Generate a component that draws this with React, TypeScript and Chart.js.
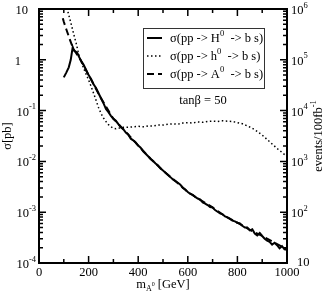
import React, { useEffect, useRef } from "react";
import { Chart, registerables } from "chart.js";
Chart.register(...registerables);

// sigma(pp -> H0 -> b s) [pb]
const massH = [100, 110, 120, 128, 136, 142, 148, 155, 160, 170, 180, 190, 200, 210, 220, 230, 240, 250, 260, 270, 280, 290, 300, 310, 320, 330, 340, 350, 360, 370, 380, 390, 400, 410, 420, 430, 440, 450, 460, 470, 480, 490, 500, 510, 520, 530, 540, 550, 560, 570, 580, 590, 600, 610, 620, 630, 640, 650, 660, 670, 680, 690, 700, 710, 720, 730, 740, 750, 760, 770, 780, 790, 800, 810, 820, 830, 840, 850, 860, 870, 880, 890, 900, 910, 920, 930, 940, 950, 960, 970, 980, 990, 1000];
const sigmaH = [0.45, 0.56, 0.71, 1.0, 1.78, 1.5, 1.45, 1.35, 1.18, 0.95, 0.8, 0.63, 0.5, 0.42, 0.33, 0.28, 0.22, 0.175, 0.14, 0.107, 0.093, 0.079, 0.069, 0.063, 0.054, 0.047, 0.043, 0.037, 0.034, 0.028, 0.026, 0.0235, 0.0205, 0.0186, 0.0158, 0.0141, 0.0126, 0.0112, 0.0102, 0.0091, 0.0083, 0.0072, 0.0066, 0.006, 0.0054, 0.0049, 0.0044, 0.0041, 0.0038, 0.00347, 0.003, 0.0028, 0.0025, 0.0023, 0.00219, 0.002, 0.00186, 0.00178, 0.00155, 0.00148, 0.00138, 0.00126, 0.00123, 0.0011, 0.00102, 0.00095, 0.00091, 0.00083, 0.00079, 0.00074, 0.00068, 0.00066, 0.00062, 0.0006, 0.00054, 0.0005, 0.0005, 0.00044, 0.00046, 0.00038, 0.00035, 0.00039, 0.00034, 0.0003, 0.000275, 0.00026, 0.00023, 0.00025, 0.000224, 0.000195, 0.000214, 0.000186, 0.000182];

// sigma(pp -> h0 -> b s) [pb]
const massh = [113, 120, 130, 140, 150, 160, 170, 180, 190, 200, 210, 220, 230, 240, 250, 260, 270, 280, 290, 300, 310, 320, 340, 360, 380, 400, 420, 440, 460, 480, 500, 520, 540, 560, 580, 600, 620, 640, 660, 680, 700, 720, 740, 760, 780, 800, 820, 840, 860, 880, 900, 920, 940, 960, 980, 1000];
const sigmah = [10.5, 7.6, 5.0, 3.2, 2.1, 1.3, 0.92, 0.68, 0.52, 0.4, 0.3, 0.22, 0.16, 0.115, 0.088, 0.072, 0.061, 0.053, 0.048, 0.045, 0.044, 0.045, 0.047, 0.047, 0.048, 0.049, 0.048, 0.05, 0.05, 0.052, 0.052, 0.054, 0.055, 0.054, 0.057, 0.058, 0.057, 0.06, 0.059, 0.061, 0.062, 0.061, 0.063, 0.062, 0.061, 0.058, 0.055, 0.05, 0.045, 0.039, 0.033, 0.027, 0.022, 0.018, 0.015, 0.0125];

// sigma(pp -> A0 -> b s) [pb]
const massA = [96, 100, 110, 120, 130, 140, 150, 170, 200, 250, 300, 350, 400, 450, 500, 550, 600, 650, 700, 750, 800, 850, 900, 950, 1000];
const sigmaA = [6.6, 5.6, 4.0, 2.9, 2.1, 1.6, 1.35, 0.95, 0.5, 0.175, 0.069, 0.038, 0.0205, 0.0113, 0.0066, 0.0041, 0.0025, 0.00175, 0.00124, 0.00084, 0.00062, 0.00045, 0.00034, 0.00025, 0.000185];

const xTickValues = [0, 200, 400, 600, 800, 1000];
const xMinorValues = [100, 300, 500, 700, 900];
const leftDecades = [-4, -3, -2, -1, 0, 1];
const rightDecades = [1, 2, 3, 4, 5, 6];
const legendNames = ["H", "h", "A"];
const annotation = "tan\u03b2 = 50";

const FONT = '"Liberation Serif", "DejaVu Serif", serif';
const f = (s: number) => `${s}px ${FONT}`;

type Seg = { t: string; size: number; dy: number };

function richWidth(ctx: CanvasRenderingContext2D, segs: Seg[]) {
  let w = 0;
  for (const s of segs) {
    ctx.font = f(s.size);
    w += ctx.measureText(s.t).width;
  }
  return w;
}
function drawRich(ctx: CanvasRenderingContext2D, segs: Seg[], x: number, y: number) {
  ctx.textAlign = "left";
  ctx.textBaseline = "alphabetic";
  let cx = x;
  for (const s of segs) {
    ctx.font = f(s.size);
    ctx.fillText(s.t, cx, y + s.dy);
    cx += ctx.measureText(s.t).width;
  }
}

const BASE = 12.5;
const EXP = 8.5;

const framePlugin = {
  id: "frame",
  afterDraw(chart: any) {
    const ctx: CanvasRenderingContext2D = chart.ctx;
    const { left, right, top, bottom } = chart.chartArea;
    const xs = chart.scales.x;
    const ys = chart.scales.y;
    ctx.save();
    ctx.fillStyle = "#000";
    ctx.strokeStyle = "#000";
    ctx.lineWidth = 2;
    ctx.strokeRect(left, top, right - left, bottom - top);
    ctx.lineWidth = 1.5;
    ctx.beginPath();
    const major = 7;
    const minor = 4;
    for (const v of xTickValues) {
      const px = xs.getPixelForValue(v);
      ctx.moveTo(px, bottom); ctx.lineTo(px, bottom - major);
      ctx.moveTo(px, top); ctx.lineTo(px, top + major);
    }
    for (const v of xMinorValues) {
      const px = xs.getPixelForValue(v);
      ctx.moveTo(px, bottom); ctx.lineTo(px, bottom - minor);
      ctx.moveTo(px, top); ctx.lineTo(px, top + minor);
    }
    for (const d of leftDecades) {
      const py = ys.getPixelForValue(Math.pow(10, d));
      ctx.moveTo(left, py); ctx.lineTo(left + major, py);
      ctx.moveTo(right, py); ctx.lineTo(right - major, py);
      if (d < 1) {
        for (let k = 2; k <= 9; k++) {
          const pm = ys.getPixelForValue(k * Math.pow(10, d));
          ctx.moveTo(left, pm); ctx.lineTo(left + minor, pm);
          ctx.moveTo(right, pm); ctx.lineTo(right - minor, pm);
        }
      }
    }
    ctx.stroke();

    ctx.font = f(BASE);
    ctx.textAlign = "center";
    ctx.textBaseline = "alphabetic";
    for (const v of xTickValues) {
      ctx.fillText(String(v), xs.getPixelForValue(v), bottom + 13);
    }

    for (const d of leftDecades) {
      const py = ys.getPixelForValue(Math.pow(10, d));
      if (d === 1) {
        ctx.font = f(BASE); ctx.textAlign = "right";
        ctx.fillText("10", left - 11, py + 5);
      } else if (d === 0) {
        ctx.font = f(BASE); ctx.textAlign = "right";
        ctx.fillText("1", left - 18, py + 5);
      } else {
        ctx.font = f(BASE);
        const w = ctx.measureText("10").width;
        drawRich(ctx, [
          { t: "10", size: BASE, dy: 0 },
          { t: String(d), size: EXP, dy: -6.5 },
        ], left - 10 - w, py + 5);
      }
    }

    for (const d of rightDecades) {
      const py = ys.getPixelForValue(Math.pow(10, d - 5));
      if (d === 1) {
        ctx.font = f(BASE); ctx.textAlign = "left";
        ctx.fillText("10", right + 10, py + 3);
      } else {
        drawRich(ctx, [
          { t: "10", size: BASE, dy: 0 },
          { t: String(d), size: EXP, dy: -6.5 },
        ], right + 4, py + 5);
      }
    }

    const xt: Seg[] = [
      { t: "m", size: BASE, dy: 0 },
      { t: "A", size: 8, dy: 2.5 },
      { t: "0", size: 6, dy: -2 },
      { t: " [GeV]", size: BASE, dy: 0 },
    ];
    const xtw = richWidth(ctx, xt);
    drawRich(ctx, xt, 163 - xtw / 2, 288);

    ctx.save();
    ctx.translate(11, (top + bottom) / 2);
    ctx.rotate(-Math.PI / 2);
    ctx.font = f(BASE);
    ctx.textAlign = "center";
    ctx.textBaseline = "alphabetic";
    ctx.fillText("\u03c3[pb]", 0, 0);
    ctx.restore();

    ctx.save();
    ctx.translate(322, (top + bottom) / 2);
    ctx.rotate(-Math.PI / 2);
    const rt: Seg[] = [
      { t: "events/100fb", size: BASE, dy: 0 },
      { t: "-1", size: EXP, dy: -6 },
    ];
    const rtw = richWidth(ctx, rt);
    drawRich(ctx, rt, -rtw / 2, 0);
    ctx.restore();

    const lx0 = 143, ly0 = 28, lx1 = 265, ly1 = 89;
    ctx.fillStyle = "#fff";
    ctx.fillRect(lx0, ly0, lx1 - lx0, ly1 - ly0);
    ctx.strokeStyle = "#333";
    ctx.lineWidth = 1;
    ctx.strokeRect(lx0 + 0.5, ly0 + 0.5, lx1 - lx0 - 1, ly1 - ly0 - 1);
    ctx.fillStyle = "#000";
    ctx.strokeStyle = "#000";
    const baselines = [42, 60, 78];
    const dashes = [[], [1.5, 2.5], [7, 4]];
    const widths = [2, 1.5, 2];
    legendNames.forEach((nm, i) => {
      const by = baselines[i];
      ctx.save();
      ctx.lineWidth = widths[i];
      ctx.setLineDash(dashes[i]);
      ctx.beginPath();
      ctx.moveTo(147, by - 4);
      ctx.lineTo(162, by - 4);
      ctx.stroke();
      ctx.restore();
      drawRich(ctx, [
        { t: "\u03c3(pp -> " + nm, size: BASE, dy: 0 },
        { t: "0", size: EXP, dy: -6 },
        { t: "  -> b s)", size: BASE, dy: 0 },
      ], 170, by);
    });

    ctx.font = f(BASE);
    ctx.textAlign = "center";
    ctx.fillText(annotation, 203, 104);
    ctx.restore();
  },
};

export default function App() {
  const ref = useRef<HTMLCanvasElement>(null);
  useEffect(() => {
    if (!ref.current) return;
    const mk = (xs: number[], ys: number[]) => xs.map((x, i) => ({ x, y: ys[i] }));
    const chart = new Chart(ref.current, {
      type: "line",
      data: {
        datasets: [
          {
            label: "H0",
            data: mk(massH, sigmaH),
            borderColor: "#000",
            borderWidth: 2,
            pointRadius: 0,
            tension: 0,
            clip: 0,
          } as any,
          {
            label: "A0",
            data: mk(massA, sigmaA),
            borderColor: "#000",
            borderWidth: 2,
            borderDash: [7, 4],
            pointRadius: 0,
            tension: 0,
            clip: 0,
          },
          {
            label: "h0",
            data: mk(massh, sigmah),
            borderColor: "#000",
            borderWidth: 1.5,
            borderDash: [1.5, 2.5],
            pointRadius: 0,
            tension: 0,
            clip: 0,
          },
        ],
      },
      options: {
        animation: false,
        responsive: false,
        layout: { padding: { left: 39, right: 40, top: 9, bottom: 31 } },
        scales: {
          x: { type: "linear", min: 0, max: 1000, display: false },
          y: { type: "logarithmic", min: 1e-4, max: 10, display: false },
        },
        plugins: { legend: { display: false }, tooltip: { enabled: false } },
      },
      plugins: [framePlugin],
    });
    return () => chart.destroy();
  }, []);
  return (
    <div style={{ position: "absolute", left: 0, top: 0, width: 327, height: 294, background: "#fff" }}>
      <canvas ref={ref} width={327} height={294} />
    </div>
  );
}
